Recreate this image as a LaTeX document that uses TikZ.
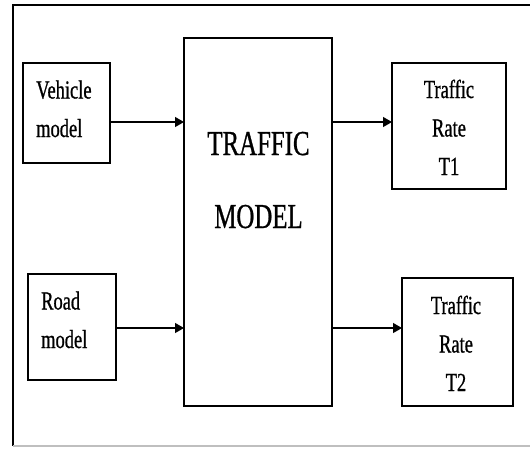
\documentclass[tikz,border=0pt]{standalone}
\usepackage{fontspec}
\setmainfont{Liberation Serif}[FakeStretch=0.71,FakeBold=0.8]
\usetikzlibrary{arrows.meta}
\begin{document}
\begin{tikzpicture}[x=1pt,y=-1pt,
  box/.style={draw=black,line width=1.2pt,inner sep=0pt,outer sep=0pt},
  lbl/.style={inner sep=0pt,font=\fontsize{26}{38.5}\selectfont},
  big/.style={inner sep=0pt,font=\fontsize{35}{73}\selectfont},
  arr/.style={line width=1.2pt,-{Triangle[length=9pt,width=10pt]}}]
\useasboundingbox (0,0) rectangle (530,448);
\fill[white] (0,0) rectangle (530,448);
% frame
\draw[line width=1.8pt] (530,5) -- (13,5) -- (13,446);
\draw[line width=1.2pt,black!25] (13,446) -- (530,446);
% boxes
\node[box,minimum width=87pt,minimum height=100pt] (veh) at (66.5,113) {};
\node[box,minimum width=88pt,minimum height=106pt] (road) at (72,327) {};
\node[box,minimum width=148pt,minimum height=368pt] (model) at (258,222) {};
\node[box,minimum width=114pt,minimum height=126pt] (t1) at (449,126) {};
\node[box,minimum width=111pt,minimum height=128pt] (t2) at (457.5,342) {};
% texts (anchored at the baseline of the last line)
\node[lbl,align=left,anchor=base west] (vehtxt) at (36,137) {Vehicle\\model};
\node[lbl,align=left,anchor=base west] (roadtxt) at (41,348) {Road\\model};
\node[big,align=center,anchor=base] (modeltxt) at (258.5,228) {TRAFFIC\\MODEL};
\node[lbl,align=center,anchor=base] (t1txt) at (449,175) {Traffic\\Rate\\T1};
\node[lbl,align=center,anchor=base] (t2txt) at (456,391) {Traffic\\Rate\\T2};
% connectors
\path ([yshift=-9pt]veh.east) coordinate (a1);
\path ([yshift=14pt]t2.west) coordinate (a4);
\draw[arr] (a1) -- (a1 -| model.west);
\draw[arr] ([yshift=-1pt]road.east) -- ([yshift=-1pt]road.east -| model.west);
\draw[arr] (a1 -| model.east) -- (a1 -| t1.west);
\draw[arr] (a4 -| model.east) -- (a4);
\end{tikzpicture}
\end{document}
